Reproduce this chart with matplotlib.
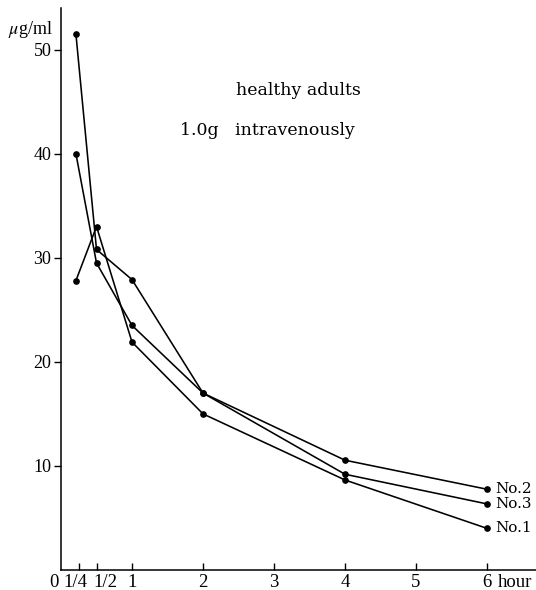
import matplotlib
matplotlib.use("Agg")
import matplotlib.pyplot as plt

# Data (hours, µg/ml)
hours = [0.21, 0.5, 1, 2, 4, 6]
no1 = [27.8, 33.0, 21.9, 15.0, 8.65, 4.0]
no2 = [51.5, 30.8, 27.9, 17.0, 10.55, 7.76]
no3 = [40.0, 29.5, 23.5, 17.0, 9.2, 6.35]
series = {"No.1": no1, "No.2": no2, "No.3": no3}

xticks = [0.25, 0.5, 1, 2, 3, 4, 5, 6]
xticklabels = ["0", "1/4", "1/2", "1", "2", "3", "4", "5", "6"]
xlabel_pos = [-0.1, 0.2, 0.63, 1.0, 2, 3, 4, 5, 6]
yticks = [10, 20, 30, 40, 50]

plt.rcParams['font.family'] = ['Liberation Serif', 'DejaVu Serif']
plt.rcParams['mathtext.fontset'] = 'stix'

fig = plt.figure(figsize=(5.36, 5.90), dpi=100)
x0 = 61 / 536
ax = fig.add_axes([x0, 20/590, 1 - x0, (570-8)/590])

for name, vals in series.items():
    ax.plot(hours, vals, color='black', lw=1.15, marker='o', ms=3.8)

ax.set_xlim(0, 6.69)
ax.set_ylim(0, 54)
ax.spines['top'].set_visible(False)
ax.spines['right'].set_visible(False)
ax.spines['left'].set_linewidth(1.1)
ax.spines['bottom'].set_linewidth(1.1)

ax.set_xticks(xticks)
ax.set_xticklabels([""] * len(xticks))
ax.tick_params(axis='x', direction='in', length=5, width=1, pad=3)
ax.set_yticks(yticks)
ax.set_yticklabels([str(v) for v in yticks], fontsize=13)
ax.tick_params(axis='y', direction='out', length=5, width=1, pad=2)

for lab, xp in zip(xticklabels, xlabel_pos):
    ax.text(xp, -1.6, lab, fontsize=13.5, ha='center', va='baseline', clip_on=False)
ax.text(6.15, -1.6, "hour", fontsize=13.5, ha='left', va='baseline', clip_on=False)

# end labels
serif2 = ['DejaVu Serif']
ax.text(6.11, no2[-1], "No.2", fontsize=11, va='center', ha='left', family=serif2)
ax.text(6.11, no3[-1], "No.3", fontsize=11, va='center', ha='left', family=serif2)
ax.text(6.11, no1[-1], "No.1", fontsize=11, va='center', ha='left', family=serif2)

ax.text(3.34, 46.1, "healthy adults", fontsize=12.5, ha='center', va='center', family=serif2)
ax.text(1.68, 42.2, "1.0g   intravenously", fontsize=12.5, ha='left', va='center', family=serif2)

ax.text(-0.74, 51.9, r"$\mu$g/ml", fontsize=13, ha='left', va='center', clip_on=False)

fig.savefig("out.png", dpi=100)
